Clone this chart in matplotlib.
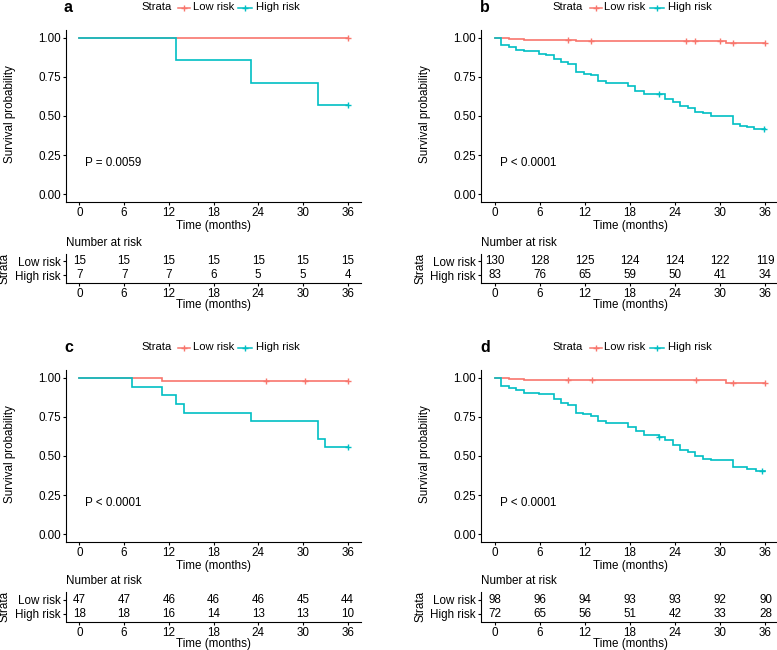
import numpy as np
import matplotlib
matplotlib.use('Agg')
import matplotlib.pyplot as plt
from matplotlib.lines import Line2D

plt.rcParams['font.family'] = ['Liberation Sans', 'DejaVu Sans']

W, H = 777, 650
LOW_C = '#F8766D'
HIGH_C = '#00BFC4'
FS = 8.4
LFS = 8.1

x_ticks = [0, 6, 12, 18, 24, 30, 36]
y_ticks = [0.0, 0.25, 0.5, 0.75, 1.0]
y_tick_labels = ['0.00', '0.25', '0.50', '0.75', '1.00']
strata = ['Low risk', 'High risk']
panel_letters = ['a', 'b', 'c', 'd']
p_values = ['P = 0.0059', 'P < 0.0001', 'P < 0.0001', 'P < 0.0001']

# ---- Panel a ----
a_low_t = [0, 36]
a_low_s = [1.0, 1.0]
a_low_cens = [36]
a_high_t = [0, 13, 23, 32, 36]
a_high_s = [1.0, 0.857, 0.714, 0.571, 0.571]
a_high_cens = [36]
a_risk_low = [15, 15, 15, 15, 15, 15, 15]
a_risk_high = [7, 7, 7, 6, 5, 5, 4]

# ---- Panel b ----
b_low_t = [0, 1.9, 3.9, 10.8, 30.8, 36]
b_low_s = [1.0, 0.993, 0.985, 0.978, 0.970, 0.970]
b_low_cens = [9.8, 12.8, 25.5, 26.7, 29.9, 31.7, 35.9]
b_high_t = [0, 0.9, 1.95, 2.85, 3.85, 5.9, 6.9, 7.9, 8.8, 9.8, 10.8, 11.9, 12.8,
            13.8, 14.8, 17.7, 18.7, 19.8, 22.7, 23.7, 24.7, 25.7, 26.7, 27.7,
            28.7, 31.7, 32.6, 33.6, 34.5, 36]
b_high_s = [1.0, 0.951, 0.940, 0.925, 0.913, 0.898, 0.887, 0.866, 0.843, 0.832,
            0.781, 0.771, 0.760, 0.724, 0.713, 0.690, 0.662, 0.643, 0.611, 0.590,
            0.562, 0.548, 0.526, 0.516, 0.503, 0.452, 0.437, 0.427, 0.420, 0.420]
b_high_cens = [21.8, 35.8]
b_risk_low = [130, 128, 125, 124, 124, 122, 119]
b_risk_high = [83, 76, 65, 59, 50, 41, 34]

# ---- Panel c ----
c_low_t = [0, 11.1, 36]
c_low_s = [1.0, 0.979, 0.979]
c_low_cens = [25.0, 30.3, 36]
c_high_t = [0, 7, 11.1, 13, 14, 23, 32, 33, 36]
c_high_s = [1.0, 0.944, 0.889, 0.833, 0.778, 0.722, 0.611, 0.556, 0.556]
c_high_cens = [36]
c_risk_low = [47, 47, 46, 46, 46, 45, 44]
c_risk_high = [18, 18, 16, 14, 13, 13, 10]

# ---- Panel d ----
d_low_t = [0, 1.9, 3.9, 30.7, 36]
d_low_s = [1.0, 0.990, 0.985, 0.970, 0.970]
d_low_cens = [9.8, 12.9, 26.8, 31.7, 35.9]
d_high_t = [0, 0.9, 1.95, 2.9, 3.85, 5.9, 7.9, 8.8, 9.8, 10.8, 11.8, 12.8, 13.8,
            14.8, 17.7, 18.8, 19.8, 21.8, 22.7, 23.7, 24.7, 25.7, 26.7, 27.7,
            28.7, 31.7, 33.6, 34.7, 36]
d_high_s = [1.0, 0.949, 0.936, 0.919, 0.906, 0.894, 0.866, 0.841, 0.826, 0.777,
            0.768, 0.755, 0.724, 0.713, 0.685, 0.658, 0.632, 0.622, 0.600, 0.569,
            0.537, 0.526, 0.499, 0.484, 0.473, 0.430, 0.416, 0.404, 0.404]
d_high_cens = [21.8, 35.6]
d_risk_low = [98, 96, 94, 93, 93, 92, 90]
d_risk_high = [72, 65, 56, 51, 42, 33, 28]

panels = [
    (a_low_t, a_low_s, a_low_cens, a_high_t, a_high_s, a_high_cens, a_risk_low, a_risk_high),
    (b_low_t, b_low_s, b_low_cens, b_high_t, b_high_s, b_high_cens, b_risk_low, b_risk_high),
    (c_low_t, c_low_s, c_low_cens, c_high_t, c_high_s, c_high_cens, c_risk_low, c_risk_high),
    (d_low_t, d_low_s, d_low_cens, d_high_t, d_high_s, d_high_cens, d_risk_low, d_risk_high),
]

# layout (pixels)
origins = [(0, 0), (415, 0), (0, 340), (415, 340)]
table_shift = [0, 0, -1.5, -1.5]
widths = [295, 298, 295, 298]

fig = plt.figure(figsize=(W / 100, H / 100), dpi=100)


def add_ax(l, t, r, b):
    return fig.add_axes([l / W, 1 - b / H, (r - l) / W, (b - t) / H])


def ftext(x, y, s, **kw):
    return fig.text(x / W, 1 - y / H, s, **kw)


def style_axis(ax):
    for sp in ['top', 'right']:
        ax.spines[sp].set_visible(False)
    for sp in ['left', 'bottom']:
        ax.spines[sp].set_linewidth(0.8)
        ax.spines[sp].set_color('black')
    ax.tick_params(axis='both', length=2.5, width=0.8, pad=1.2,
                   labelsize=FS, colors='black')
    ax.set_xlim(-1.8, 37.8)
    ax.set_xticks(x_ticks)
    ax.set_xticklabels([str(v) for v in x_ticks])


def surv_at(t, s, ct):
    i = np.searchsorted(np.asarray(t), ct, side='right') - 1
    return np.asarray(s)[i]


for k, (ox, oy) in enumerate(origins):
    lt, ls, lc, ht, hs, hc, rl, rh = panels[k]
    w = widths[k]
    L = 66 + ox
    R = L + w

    # ---- main survival plot ----
    ax = add_ax(L, 30 + oy, R, 202 + oy)
    style_axis(ax)
    ax.set_ylim(-0.05, 1.05)
    ax.set_yticks(y_ticks)
    ax.set_yticklabels(y_tick_labels)
    for (t, s, c, col) in [(lt, ls, lc, LOW_C), (ht, hs, hc, HIGH_C)]:
        ax.step(t, s, where='post', color=col, lw=1.2, solid_joinstyle='miter')
        cy = [surv_at(t, s, v) for v in c]
        ax.plot(c, cy, linestyle='none', marker='+', color=col,
                markersize=5, markeredgewidth=1.0)
    ax.text(0.75, 0.2, p_values[k], ha='left', va='center', fontsize=FS)
    ax.set_xlabel('Time (months)', fontsize=FS, labelpad=0.3)
    ftext(10 + ox, 114 + oy, 'Survival probability', rotation=90,
          ha='center', va='center', fontsize=FS)

    # ---- panel letter + legend ----
    ftext(64 + ox + (1 if k % 2 else 0), 7.5 + oy, panel_letters[k],
          fontsize=11.5, fontweight='bold', ha='left', va='center')
    ly = 7.5 + oy
    lx = ox + (1 if k % 2 == 0 else -2.5)
    ftext(140 + lx, ly, 'Strata', ha='left', va='center', fontsize=LFS)
    for (x0, x1, col, lab, tx) in [(177, 189, LOW_C, strata[0], 192),
                                   (237, 251, HIGH_C, strata[1], 255)]:
        fig.add_artist(Line2D([(x0 + lx) / W, (x1 + lx) / W],
                              [1 - ly / H, 1 - ly / H], color=col, lw=1.1,
                              transform=fig.transFigure))
        fig.add_artist(Line2D([(x0 + x1) / 2 / W + lx / W], [1 - ly / H],
                              color=col, marker='+', markersize=5,
                              markeredgewidth=1.0, linestyle='none',
                              transform=fig.transFigure))
        ftext(tx + lx, ly, lab, ha='left', va='center', fontsize=LFS)

    # ---- risk table ----
    ty = oy + table_shift[k]
    rax = add_ax(L, 254 + ty, R, 283 + ty)
    style_axis(rax)
    rax.set_ylim(-0.57, 1.5)
    rax.set_yticks([1, 0])
    rax.set_yticklabels(strata)
    for xv, nl, nh in zip(x_ticks, rl, rh):
        rax.text(xv, 1, str(nl), ha='center', va='center', fontsize=FS)
        rax.text(xv, 0, str(nh), ha='center', va='center', fontsize=FS)
    rax.set_xlabel('Time (months)', fontsize=FS, labelpad=-0.5)
    ftext(L, 242.5 + ty, 'Number at risk', ha='left', va='center', fontsize=FS)
    ftext(5 + ox, 268 + ty, 'Strata', rotation=90, ha='center', va='center',
          fontsize=FS)

fig.savefig('out.png', dpi=100)
